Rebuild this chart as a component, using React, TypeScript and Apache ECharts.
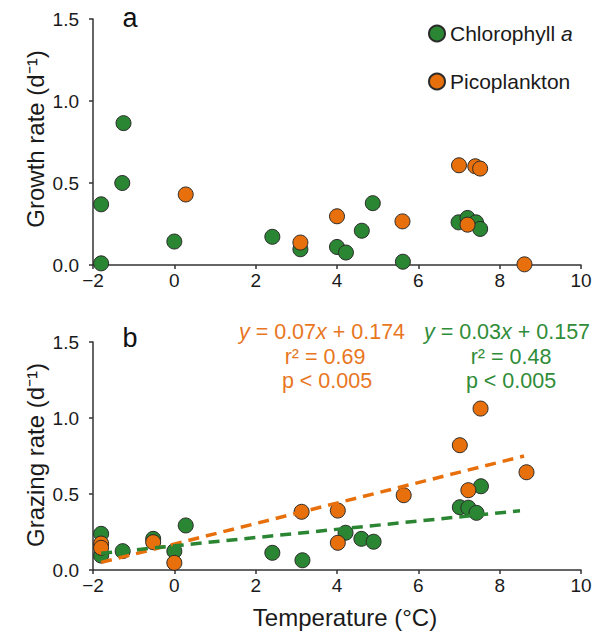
import React, { useEffect, useRef } from "react";
import * as echarts from "echarts";

const GREEN = "#2a8632";
const ORANGE = "#e8700c";
const GREEN_TXT = "#2f8c38";
const ORANGE_TXT = "#e8761e";

// Panel a: growth rate
const aChlX = [-1.8, -1.8, -1.25, -1.28, 0.0, 2.41, 3.1, 4.0, 4.22, 4.61, 4.88, 5.62, 6.99, 7.21, 7.42, 7.52];
const aChlY = [0.37, 0.01, 0.865, 0.5, 0.143, 0.172, 0.096, 0.11, 0.076, 0.209, 0.377, 0.02, 0.26, 0.287, 0.26, 0.22];
const aPicoX = [0.28, 3.1, 4.0, 5.61, 7.0, 7.4, 7.52, 7.21, 8.61];
const aPicoY = [0.43, 0.137, 0.297, 0.266, 0.608, 0.602, 0.588, 0.246, 0.004];

// Panel b: grazing rate
const bChlX = [-1.8, -1.8, -1.27, -0.52, 0.0, 0.28, 2.41, 3.15, 4.21, 4.6, 4.9, 7.02, 7.23, 7.43, 7.54];
const bChlY = [0.238, 0.095, 0.124, 0.205, 0.124, 0.293, 0.113, 0.064, 0.245, 0.205, 0.186, 0.413, 0.41, 0.376, 0.551];
const bPicoX = [-1.8, -1.8, -0.52, 0.0, 3.13, 4.02, 4.02, 5.64, 7.02, 7.53, 7.23, 8.66];
const bPicoY = [0.174, 0.146, 0.183, 0.047, 0.383, 0.391, 0.179, 0.492, 0.821, 1.062, 0.525, 0.643];

// Regression line end points
const fitPicoX = [-1.8, 8.6];
const fitPicoY = [0.05, 0.75];
const fitChlX = [-1.8, 8.5];
const fitChlY = [0.11, 0.39];

const xTicks = [-2, 0, 2, 4, 6, 8, 10];
const yTicks = [0, 0.5, 1.0, 1.5];

const FONT = "Liberation Sans";

const zip = (xs: number[], ys: number[]) => xs.map((x, i) => [x, ys[i]]);

export default function App() {
  const ref = useRef<HTMLDivElement>(null);
  useEffect(() => {
    if (!ref.current) return;
    const chart = echarts.init(ref.current, undefined, { renderer: "svg" });
    const axisLine = { show: true, onZero: false, lineStyle: { color: "#333", width: 1.5 } };
    const mkX = (gridIndex: number) => ({
      type: "value",
      gridIndex,
      min: xTicks[0],
      max: xTicks[xTicks.length - 1],
      interval: 2,
      axisLine,
      axisTick: { show: true, length: 4, lineStyle: { color: "#333", width: 1.5 } },
      splitLine: { show: false },
      axisLabel: {
        color: "#1a1a1a",
        fontSize: 19,
        fontFamily: FONT,
        margin: 6,
        formatter: (v: number) => (v < 0 ? "\u2212" + Math.abs(v) : String(v)),
      },
    });
    const mkY = (gridIndex: number) => ({
      type: "value",
      gridIndex,
      min: yTicks[0],
      max: yTicks[yTicks.length - 1],
      interval: 0.5,
      axisLine,
      axisTick: { show: true, length: 4, lineStyle: { color: "#333", width: 1.5 } },
      splitLine: { show: false },
      axisLabel: {
        color: "#1a1a1a",
        fontSize: 19,
        fontFamily: FONT,
        margin: 14,
        formatter: (v: number) => v.toFixed(1),
      },
    });
    const pointStyle = (c: string) => ({ color: c, borderColor: "#2a2a2a", borderWidth: 1, opacity: 1 });
    const scatter = (name: string, idx: number, xs: number[], ys: number[], c: string, z: number) => ({
      type: "scatter",
      name,
      xAxisIndex: idx,
      yAxisIndex: idx,
      data: zip(xs, ys),
      symbol: "circle",
      symbolSize: 15,
      itemStyle: pointStyle(c),
      z,
    });
    const fit = (xs: number[], ys: number[], c: string) => ({
      type: "line",
      xAxisIndex: 1,
      yAxisIndex: 1,
      data: zip(xs, ys),
      symbol: "none",
      lineStyle: { color: c, width: 3.5, type: [11, 7] },
      z: 5,
      silent: true,
    });
    const FS = 21.5;
    const txt = (x: number, y: number, text: string, color: string, rich: any = {}) => ({
      type: "text",
      x,
      y,
      style: {
        text,
        fill: color,
        fontSize: FS,
        fontFamily: FONT,
        align: "center",
        verticalAlign: "middle",
        rich,
      },
    });
    const italic = (color: string) => ({
      i: { fontStyle: "italic", fontSize: FS, fontFamily: FONT, fill: color, color },
      n: { fontSize: FS, fontFamily: FONT, fill: color, color },
    });
    chart.setOption({
      animation: false,
      grid: [
        { left: 93, right: 24, top: 19, height: 246 },
        { left: 93, right: 24, top: 342, height: 228 },
      ],
      xAxis: [mkX(0), mkX(1)],
      yAxis: [mkY(0), mkY(1)],
      legend: {
        orient: "vertical",
        left: 428,
        top: 23,
        padding: 0,
        itemWidth: 16,
        itemHeight: 16,
        itemGap: 27,
        icon: "circle",
        data: ["Chlorophyll a", "Picoplankton"],
        textStyle: {
          color: "#1a1a1a",
          fontSize: 21,
          fontFamily: FONT,
          rich: {
            n: { fontSize: 21, fontFamily: FONT, color: "#1a1a1a" },
            i: { fontSize: 21, fontFamily: FONT, color: "#1a1a1a", fontStyle: "italic" },
          },
        },
        formatter: (name: string) => (name === "Chlorophyll a" ? "{n|Chlorophyll }{i|a}" : "{n|" + name + "}"),
      },
      series: [
        scatter("Chlorophyll a", 0, aChlX, aChlY, GREEN, 2),
        scatter("Picoplankton", 0, aPicoX, aPicoY, ORANGE, 3),
        scatter("Chlorophyll a", 1, bChlX, bChlY, GREEN, 2),
        scatter("Picoplankton", 1, bPicoX, bPicoY, ORANGE, 3),
        fit(fitPicoX, fitPicoY, ORANGE),
        fit(fitChlX, fitChlY, GREEN),
      ],
      graphic: [
        { type: "text", x: 130, y: 18, style: { text: "a", fill: "#111", fontSize: 27, fontFamily: FONT, align: "center", verticalAlign: "middle" } },
        { type: "text", x: 130, y: 338, style: { text: "b", fill: "#111", fontSize: 27, fontFamily: FONT, align: "center", verticalAlign: "middle" } },
        {
          type: "text", x: 35, y: 139, rotation: Math.PI / 2,
          style: { text: "Growth rate (d\u207B\u00B9)", fill: "#1a1a1a", fontSize: 24, fontFamily: FONT, align: "center", verticalAlign: "middle" },
        },
        {
          type: "text", x: 35, y: 455, rotation: Math.PI / 2,
          style: { text: "Grazing rate (d\u207B\u00B9)", fill: "#1a1a1a", fontSize: 24, fontFamily: FONT, align: "center", verticalAlign: "middle" },
        },
        {
          type: "text", x: 345, y: 617,
          style: { text: "Temperature (\u00B0C)", fill: "#1a1a1a", fontSize: 24, fontFamily: FONT, align: "center", verticalAlign: "middle" },
        },
        txt(322, 332, "{i|y}{n| = 0.07}{i|x}{n| + 0.174}", ORANGE_TXT, italic(ORANGE_TXT)),
        txt(325, 357, "r\u00B2 = 0.69", ORANGE_TXT),
        txt(327, 381, "p < 0.005", ORANGE_TXT),
        txt(507, 332, "{i|y}{n| = 0.03}{i|x}{n| + 0.157}", GREEN_TXT, italic(GREEN_TXT)),
        txt(511, 357, "r\u00B2 = 0.48", GREEN_TXT),
        txt(511, 381, "p < 0.005", GREEN_TXT),
      ],
    });
    return () => chart.dispose();
  }, []);
  return <div ref={ref} style={{ width: 605, height: 633, position: "absolute", left: 0, top: 0 }} />;
}
